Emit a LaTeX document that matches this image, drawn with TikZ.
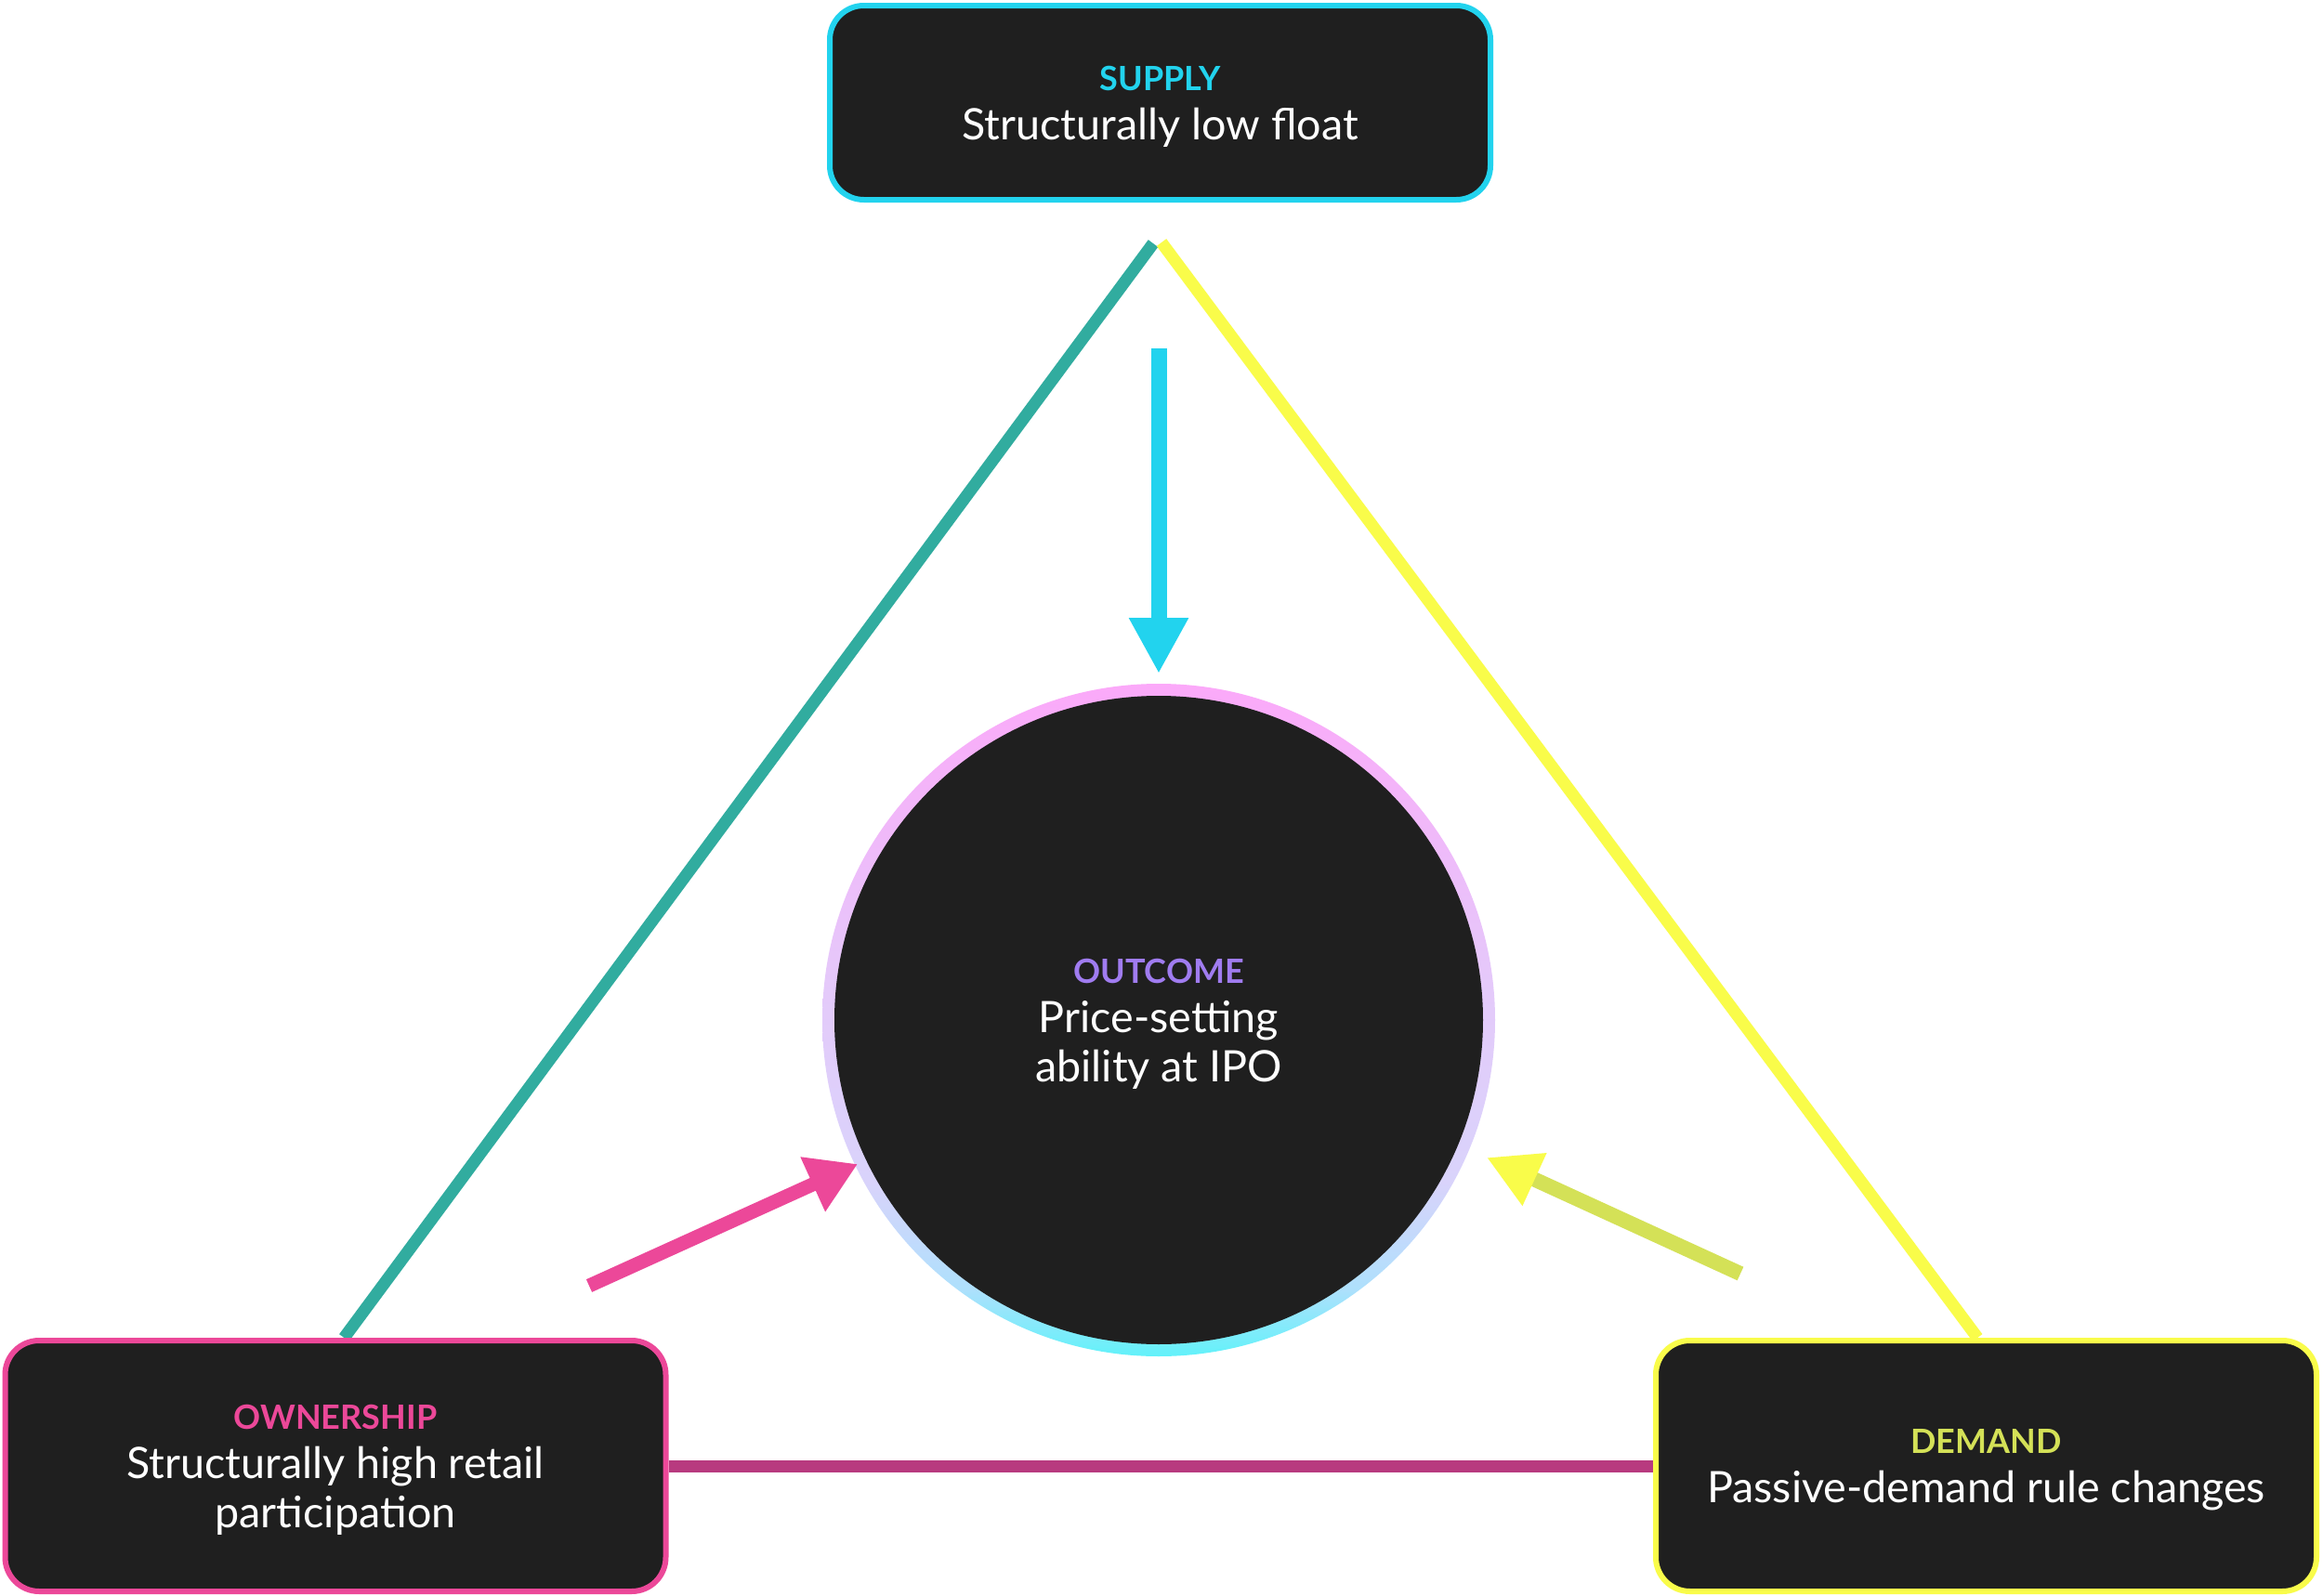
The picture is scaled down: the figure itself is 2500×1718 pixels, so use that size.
\documentclass[tikz,border=0pt]{standalone}
\usepackage{fontspec}
\setmainfont{Lato}
\usetikzlibrary{arrows.meta,calc,backgrounds}
\definecolor{boxfill}{HTML}{1F1F1F}
\definecolor{cyanA}{HTML}{22D3EE}
\definecolor{pinkA}{HTML}{EC4899}
\definecolor{yelA}{HTML}{F9FC4A}
\definecolor{oliveA}{HTML}{D4E157}
\definecolor{tealA}{HTML}{31AC9F}
\definecolor{magA}{HTML}{B83A7F}
\definecolor{purpA}{HTML}{A07CF0}
\definecolor{ringP}{HTML}{FBA9F9}
\definecolor{ringM}{HTML}{E4CAFA}
\definecolor{ringL}{HTML}{D9D3FB}
\definecolor{ringB}{HTML}{AEE0FC}
\definecolor{ringC}{HTML}{62F2FA}
\pgfdeclareverticalshading{ringshade}{100bp}{color(0bp)=(ringC); color(25bp)=(ringC); color(30bp)=(ringB); color(38bp)=(ringL); color(52bp)=(ringM); color(75bp)=(ringP); color(100bp)=(ringP)}
\newcommand\bodyf{\fontsize{14pt}{15.9pt}\selectfont}
\newcommand\labf{\fontsize{10.8pt}{15.9pt}\selectfont\bfseries}
\begin{document}
\begin{tikzpicture}[x=0.3pt,y=-0.3pt,
  cbox/.style={draw, line width=1.8pt, rounded corners=11pt, fill=boxfill,
    minimum width=213.3pt, inner sep=0pt, text=white, align=center, font=\bodyf, text depth=0pt},
  edge/.style={line width=3.9pt},
  bigarrow/.style={line width=#1}]
\begin{scope}[on background layer]
\fill[white] (0,0) rectangle (2500,1718);
\end{scope}
% boxes
\node[cbox, draw=cyanA, minimum height=62.7pt] (sup) at (1248.5,110.5)
  {{\labf\color{cyanA}SUPPLY}\\Structurally low float};
\node[cbox, draw=pinkA, minimum height=81pt] (own) at (361,1578)
  {{\labf\color{pinkA}OWNERSHIP}\\Structurally high retail\\participation};
\node[cbox, draw=yelA, minimum height=81pt] (dem) at (2137.5,1578)
  {{\labf\color{oliveA}DEMAND}\\Passive-demand rule changes};
% outcome circle
\node[circle, minimum size=217.2pt, inner sep=0pt, shade, shading=ringshade] (ring) at (1247,1098) {};
\node[circle, minimum size=209.4pt, inner sep=0pt, fill=boxfill, text=white, align=center, font=\bodyf, text depth=0pt] (out) at (ring.center)
  {{\labf\color{purpA}OUTCOME}\\Price-setting\\ability at IPO};
% triangle edges
\coordinate (apexT) at (1241,262);
\coordinate (apexY) at (1250,261);
\begin{scope}[on background layer]
\draw[edge, tealA] (apexT) -- ($(own.north west)!0.513!(own.north east)$);
\draw[edge, yelA] (apexY) -- ($(dem.north west)!0.487!(dem.north east)$);
\draw[edge, magA] (own.east) -- (dem.west);
\end{scope}
% arrows
\coordinate (bT) at (1247,375);
\coordinate (bH) at (1247,725);
\draw[bigarrow=5.1pt, cyanA, -{Triangle[length=18pt,width=18pt]}] (bT) -- (bH);
\coordinate (pT) at (634,1384);
\coordinate (pH) at (923,1253);
\draw[bigarrow=4.5pt, pinkA, -{Triangle[length=15.9pt,width=18.3pt]}] (pT) -- (pH);
\coordinate (yT) at (1873,1371);
\coordinate (yH) at (1600,1246);
\draw[bigarrow=4.8pt, oliveA, -{Triangle[length=17pt,width=17.5pt,color=yelA]}] (yT) -- (yH);
\end{tikzpicture}
\end{document}
